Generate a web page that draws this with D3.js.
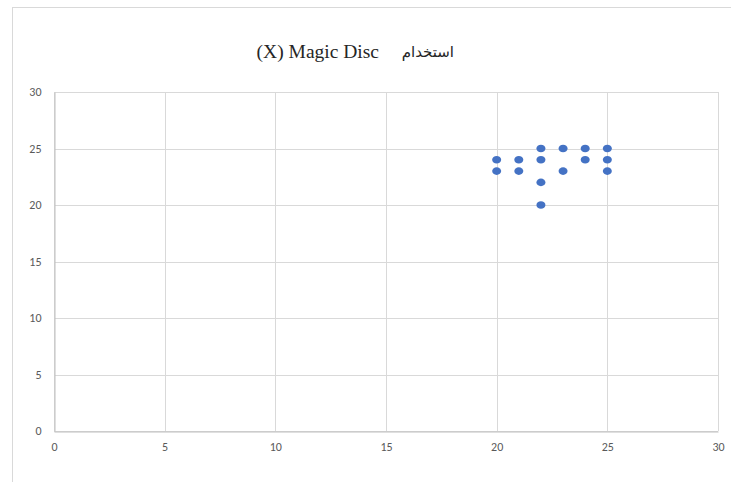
<!DOCTYPE html>
<html>
<head>
<meta charset="utf-8">
<script src="https://cdn.jsdelivr.net/npm/d3@7"></script>
<style>
  body { margin: 0; background: #fff; }
</style>
</head>
<body>
<script>
const xValues = [22, 23, 24, 25, 20, 21, 22, 24, 25, 20, 21, 23, 25, 22, 22];
const yValues = [25, 25, 25, 25, 24, 24, 24, 24, 24, 23, 23, 23, 23, 22, 20];
const xTicks = [0, 5, 10, 15, 20, 25, 30];
const yTicks = [0, 5, 10, 15, 20, 25, 30];
const titleLatin = '(X) Magic Disc';
const titleArabic = 'استخدام';

const width = 731;
const height = 482;
const plot = { left: 54, right: 718, top: 92, bottom: 431 };

const svg = d3.select('body')
  .append('svg')
  .attr('width', width)
  .attr('height', height);

// chart frame (right and bottom edges fall outside the picture)
svg.append('rect')
  .attr('x', 12.5)
  .attr('y', 7.5)
  .attr('width', 740)
  .attr('height', 500)
  .attr('fill', '#fff')
  .attr('stroke', '#d9d9d9');

const xScale = d3.scaleLinear().domain([0, 30]).range([plot.left, plot.right]);
const yScale = d3.scaleLinear().domain([0, 30]).range([plot.bottom, plot.top]);

// gridlines
svg.append('g')
  .selectAll('line')
  .data(xTicks)
  .join('line')
  .attr('x1', (d) => Math.round(xScale(d)) + 0.5)
  .attr('x2', (d) => Math.round(xScale(d)) + 0.5)
  .attr('y1', plot.top)
  .attr('y2', plot.bottom)
  .attr('stroke', '#d9d9d9');

svg.append('g')
  .selectAll('line')
  .data(yTicks)
  .join('line')
  .attr('x1', plot.left)
  .attr('x2', plot.right)
  .attr('y1', (d) => Math.round(yScale(d)) + 0.5)
  .attr('y2', (d) => Math.round(yScale(d)) + 0.5)
  .attr('stroke', '#d9d9d9');

// axes
const xAxis = d3.axisBottom(xScale).tickValues(xTicks).tickSize(0).tickPadding(11);
const gx = svg.append('g')
  .attr('transform', `translate(0, ${plot.bottom + 0.5})`)
  .call(xAxis);
gx.select('.domain').attr('stroke', '#bfbfbf');

const yAxis = d3.axisLeft(yScale).tickValues(yTicks).tickSize(0).tickPadding(13);
const gy = svg.append('g')
  .attr('transform', `translate(${plot.left + 0.5}, 0)`)
  .call(yAxis);
gy.select('.domain').attr('stroke', '#bfbfbf');

svg.selectAll('.tick text')
  .attr('fill', '#595959')
  .style('font-family', 'Calibri, Carlito, "Liberation Sans", sans-serif')
  .style('font-size', '12px');

// title: latin part, then the arabic word to its right
svg.append('text')
  .attr('x', 379)
  .attr('y', 58)
  .attr('text-anchor', 'end')
  .style('font-family', '"Liberation Serif", "Times New Roman", serif')
  .style('font-size', '19.5px')
  .attr('fill', '#262626')
  .text(titleLatin);

svg.append('text')
  .attr('x', 454)
  .attr('y', 57)
  .attr('text-anchor', 'end')
  .style('font-family', '"Noto Sans", "DejaVu Sans", sans-serif')
  .style('font-size', '15px')
  .attr('fill', '#262626')
  .text(titleArabic);

// points
svg.append('g')
  .selectAll('ellipse')
  .data(xValues.map((x, i) => ({ x, y: yValues[i] })))
  .join('ellipse')
  .attr('cx', (d) => xScale(d.x))
  .attr('cy', (d) => yScale(d.y))
  .attr('rx', 4.5)
  .attr('ry', 3.8)
  .attr('fill', '#4472c4');
</script>
</body>
</html>
